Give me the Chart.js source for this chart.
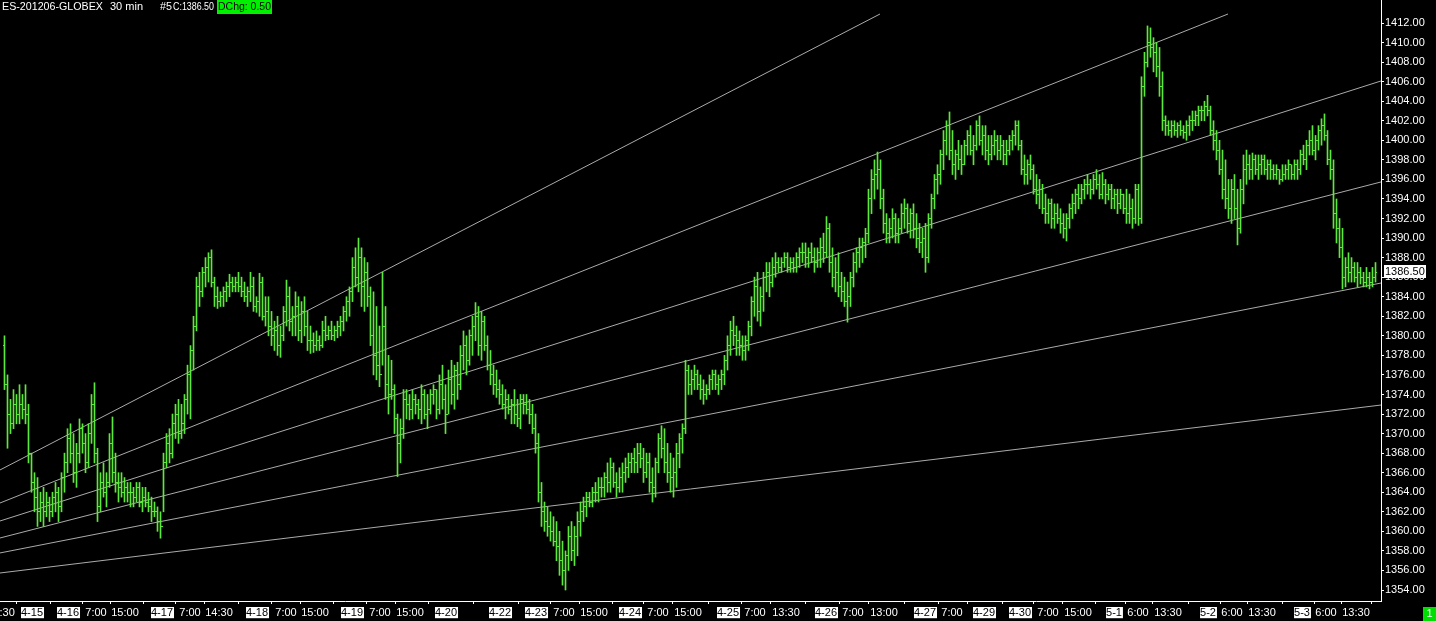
<!DOCTYPE html>
<html><head><meta charset="utf-8">
<script src="https://cdn.jsdelivr.net/npm/chart.js@4/dist/chart.umd.min.js"></script>
<style>html,body{margin:0;padding:0;background:#000;overflow:hidden}
#wrap{position:relative;width:1436px;height:621px}</style></head>
<body><div id="wrap"><canvas id="c"></canvas></div>
<script>
// ---- data (30 min bars, ES-201206-GLOBEX) ----
const highs=[
1380,1376,1373.5,1374.5,1374,1375,1374,1375,1373,1368,
1366,1365.5,1364,1364.5,1364,1363.5,1364,1365,1364.5,1366,
1368,1370.5,1371,1370,1369,1371.5,1371,1370,1371,1374,
1375.2,1368.5,1366,1367,1366,1370,1371.7,1368,1366,1366,
1365.5,1365,1365,1364.5,1365,1365,1364.5,1364.5,1364,1363.5,
1363,1362.5,1362,1368,1370,1370.5,1372,1373,1373.5,1373,
1374,1377,1379,1382,1386,1386.5,1387,1388,1388.5,1388.8,
1386,1385,1384.5,1385,1385.5,1386.3,1386,1386,1386.5,1386,
1385.5,1385,1386.5,1386,1384,1386.4,1386,1384,1384,1382.5,
1381.5,1382,1381,1383,1385.7,1385,1383,1384.5,1384,1383.5,
1384,1382.5,1381,1380.3,1380.5,1380,1381.5,1382,1381,1381.5,
1381,1381.5,1382,1383,1384,1385,1388,1389,1390,1389,
1388,1387.5,1385,1384.5,1383,1381,1386.5,1383,1378,1377.5,
1375,1372,1371.5,1374.5,1374.5,1374,1374.5,1374,1373.5,1375,
1374.5,1374,1374.5,1375,1374.5,1376,1377,1375,1376.5,1377.5,
1377,1377.3,1379,1380.5,1380,1380.6,1382,1383.4,1383,1382.5,
1382,1380,1378.5,1377,1376.5,1375.5,1375,1374.5,1374,1373.5,
1374.5,1373.5,1374,1374,1374,1373.5,1373,1372,1370,1365,
1363,1362.5,1362,1361.5,1361,1360,1359,1358,1360.5,1361,
1360.5,1362,1363,1363.5,1364,1364,1364.5,1365,1365.5,1365.5,
1366,1367,1367.5,1367,1366,1366.5,1367,1367.5,1368,1368,
1368.5,1369,1369,1368.5,1368,1368,1366.5,1367.5,1370,1370.8,
1370.5,1369,1368,1367.5,1369,1370,1371,1377.5,1377,1376.5,
1377,1376.5,1376,1375.5,1375,1376,1376.5,1376.5,1376,1376.5,
1378,1380,1381.5,1382,1381,1380.5,1380,1380,1381.5,1384,
1386,1386.5,1385,1386.5,1387.5,1387.5,1388,1388.5,1388,1388,
1388.5,1388.5,1388,1388,1388.5,1389,1389.5,1389.5,1389,1389.5,
1389,1389,1390,1390.5,1392.2,1391.5,1389,1388,1388.5,1386.5,
1386,1385.5,1386.5,1388.5,1389,1390,1390,1391,1395,1397,
1398,1398.8,1398,1395,1392.5,1392,1393,1392.5,1392,1393.5,
1394,1393.5,1393,1393.5,1392.5,1391.5,1391,1391.5,1392.5,1394.5,
1396.5,1397.5,1399,1401,1402,1402.9,1401,1399,1400,1399.5,
1400,1401,1401.5,1400.5,1402,1402.5,1401.5,1401.5,1400.5,1400.5,
1401,1400.5,1400.5,1400,1400,1400.5,1401,1402,1402,1400,
1398.5,1398,1398.5,1397.5,1396.5,1396,1395.5,1394.5,1394,1394,
1393.5,1393.5,1393,1392.5,1392.5,1393.5,1394.5,1395,1395.5,1395.5,
1396,1396.5,1396,1396.5,1397,1396.5,1396.7,1396,1395.5,1395.5,
1395,1395,1395,1394.5,1395,1394.5,1394,1395.5,1395.5,1406.5,
1409,1411.7,1411.5,1410.5,1410,1409.5,1407,1402.5,1402,1402,
1402,1401.8,1402,1401.5,1402,1402.5,1403,1403,1403.5,1403.5,
1404,1404.6,1403.5,1402,1401,1400,1399,1398,1396,1396,
1396.5,1395,1396,1398.5,1399,1398.5,1398.7,1398.5,1398.5,1398.5,
1398.5,1398,1398,1397.5,1397.5,1397,1397.5,1397.5,1398,1397.5,
1398,1398,1399,1399.5,1400,1401,1401.5,1400.5,1401.5,1402.2,
1402.7,1401,1399,1398,1394,1392,1391,1388,1388.5,1388,
1387.5,1387.5,1387,1386.5,1387,1386.5,1387,1387.5];
const lows=[
1374.5,1368.5,1370,1370.5,1371,1371,1371.5,1371,1367,1364,
1362,1360.5,1361,1360.5,1361.5,1361,1361.5,1362,1361,1362,
1364,1366,1367,1365,1364.5,1367,1368,1366,1366.5,1369,
1367,1361,1362,1363.5,1362.5,1364.5,1365,1364,1363,1363.5,
1363,1363,1362.5,1362.5,1363,1362.5,1362,1362.5,1362,1361,
1361.5,1360,1359.3,1362,1366.5,1367,1367.5,1369.5,1369,1369.5,
1370,1372,1371.5,1376.5,1380.5,1383,1384,1385,1385.5,1385,
1383,1382.8,1383,1383,1383.5,1384,1384.5,1384.5,1384.5,1384,
1383.5,1383,1383.5,1382.5,1382.4,1382,1381.6,1381,1380,1379,
1378.5,1378,1377.8,1379.5,1381,1380.5,1380,1380,1379.5,1379.3,
1380,1378.5,1378.2,1378.3,1378.5,1378.5,1378.8,1379.5,1379.6,1379.6,
1379.5,1379.8,1380,1380.5,1381.5,1382,1383.5,1385,1384.5,1383,
1382.5,1383,1379,1376,1375.5,1374.8,1377,1373.5,1372,1373.5,
1370,1365.6,1367,1369.5,1371.5,1371.4,1371.5,1372,1371.5,1371,
1371.5,1370.5,1372,1373,1371.5,1372,1372.5,1370,1372,1373,
1372.5,1373.5,1374.5,1376.5,1376,1377,1378,1379.5,1378,1377.5,
1378.5,1376.5,1375,1374,1373.7,1373,1372.5,1371.5,1372,1371,
1371,1370.7,1370.5,1372,1372,1371,1370,1368,1363,1360.5,
1360,1359.5,1359,1358.5,1357,1355.5,1354.5,1354,1356,1357,
1356.5,1357.5,1359.5,1361,1361.5,1362.5,1362.5,1363,1363,1363.5,
1363.5,1364,1364,1364.5,1363.5,1364,1364,1365,1365.5,1366,
1366,1366,1366.5,1365,1365.5,1364,1363,1363.5,1366,1367.5,
1366,1365,1364,1363.5,1364.5,1366.5,1368,1370,1374,1374,
1374.5,1374.5,1373.5,1373,1373.5,1374,1374.5,1374.5,1374,1374.5,
1375,1376.5,1378,1379,1378,1378,1377.5,1377.5,1378.5,1380,
1382,1381.5,1381,1382.5,1384.5,1384,1385,1386,1386.5,1386.5,
1387,1386.5,1386.5,1386.5,1386.5,1387,1387.5,1387,1387,1387.5,
1386.5,1387,1387,1387.5,1388,1386.5,1385,1384.5,1384,1383.5,
1383,1381.4,1383,1385,1386.5,1387,1387.5,1388,1389.5,1392.5,
1394,1395,1393,1390.5,1389.5,1389.5,1390,1389.5,1389.5,1390.5,
1391,1390.5,1390,1390,1389,1388.5,1388,1386.5,1387.5,1391,
1393,1394.5,1395.5,1397,1398.5,1398,1396.5,1396,1397,1396.5,
1397.5,1398.5,1398.5,1397.5,1399,1399.5,1398.5,1398,1397.5,1398,
1398.5,1398,1398,1397.5,1397.5,1398.5,1399,1399.5,1399,1396.5,
1395.5,1395.5,1396,1394.5,1393.5,1393,1392.5,1391.5,1391.5,1391,
1391,1391.5,1390.5,1390,1389.7,1391,1392,1392.5,1393,1393.5,
1394,1394.5,1394,1394.5,1395,1394,1394,1393.5,1393.9,1393,
1393,1392.5,1393,1392.5,1391.5,1391.5,1391,1391.5,1391.3,1391.5,
1404.5,1407.5,1408.5,1407,1406.5,1404.5,1401,1400.5,1400.5,1400.3,
1400.5,1400.3,1400.5,1400.2,1400,1400.5,1401,1401.5,1401.5,1402,
1402,1402.5,1400.5,1399,1398,1396.5,1394,1393,1392,1391.5,
1392,1389.3,1390.5,1393.5,1395.5,1396,1396,1396.5,1396,1396.5,
1396.5,1396,1396,1396,1396,1395.5,1395.8,1396,1396,1396,
1396,1396,1396.5,1397.5,1397,1398.5,1398.5,1398,1399,1399.5,
1400,1397.5,1396,1391,1389.5,1388,1384.8,1385,1385.5,1385.5,
1385.5,1385,1385.3,1385,1385,1384.8,1385,1385.5];
const closes=[
1375,1372,1371,1373,1372,1373,1372.5,1372,1368,1365,
1363.5,1362,1363,1362,1363,1362,1363.5,1364,1362.5,1365.5,
1367,1369.5,1368,1366,1368,1370.5,1369,1367,1370,1373,
1368,1362.5,1365,1364,1365,1369,1366,1365,1364.5,1364,
1364.5,1364,1364,1363.5,1364.5,1363,1363.5,1363,1362.5,1362,
1362,1361,1360.5,1367,1369,1368,1371,1372,1370,1371,
1373.5,1376,1378.5,1381,1385,1384.5,1386.5,1387,1388,1385.5,
1384,1383.5,1384,1384.5,1385,1385.5,1385,1385.5,1385,1384.5,
1384,1384.5,1385,1383,1383.5,1385.5,1382,1382.5,1381,1380,
1380.5,1379,1380,1382.5,1384,1381.5,1382,1383,1380.5,1382.5,
1381,1379.5,1379.5,1379,1379.5,1379,1380.5,1380,1380.5,1380,
1380.5,1381,1381.5,1382.5,1383.5,1384.5,1387,1386,1388,1385,
1386.5,1384,1380,1378,1377,1376,1381,1375,1374,1374.5,
1371.5,1369,1370.5,1373.5,1373,1372.5,1373.5,1373,1372.5,1374,
1372,1372.5,1374,1374.5,1372.5,1375,1373.5,1372,1375.5,1374,
1376.5,1375,1378,1379,1377.5,1380,1381,1382,1379,1381.5,
1379,1377,1376,1375,1374.5,1374,1373,1373.5,1372.5,1373,
1372,1371.5,1373.5,1373,1372.5,1372,1370.5,1369,1364,1362,
1361,1360.5,1360,1359,1358.5,1357,1356,1357.5,1359.5,1358,
1359.5,1361,1362,1362.5,1363.5,1363,1364,1364,1364.5,1364.5,
1365.5,1365,1366.5,1365,1364.5,1365.5,1366,1366.5,1367,1367.5,
1367,1368,1367.5,1366,1367,1365,1364.5,1367,1369.5,1368.5,
1367,1366,1365.5,1366,1368,1369.5,1370.5,1376.5,1375,1375.5,
1376,1375,1374.5,1374,1374.5,1375.5,1376,1375,1375.5,1376,
1377.5,1379,1380.5,1380,1379.5,1379,1378.5,1379.5,1381,1383.5,
1385,1382.5,1384,1386,1386.5,1385.5,1387,1387.5,1387,1387.5,
1388,1387,1387.5,1387,1388,1388.5,1388.5,1388,1388.5,1388,
1387.5,1388.5,1389,1388.5,1391,1387.5,1386,1386.5,1385,1384.5,
1383.5,1384,1386,1387.5,1388.5,1389,1389.5,1390.5,1394,1396,
1396.5,1397,1394,1391.5,1390.5,1391,1392,1390.5,1391,1392.5,
1393,1391.5,1392.5,1391,1390,1389.5,1390,1388,1392,1394,
1396,1396.5,1398.5,1400,1401.5,1399,1397.5,1398.5,1398,1397.5,
1399.5,1400.5,1399,1399.5,1401.5,1400,1400.5,1399,1398.5,1399.5,
1400,1399,1399.5,1398.5,1399,1400,1400.5,1401.5,1399.5,1397,
1396.5,1397.5,1397,1395,1394.5,1395,1393,1392.5,1393.5,1392,
1392.5,1392,1391.5,1391,1392,1393,1393.5,1394.5,1394,1395,
1395.5,1395.5,1395,1396,1395.5,1394.5,1395.5,1394.5,1395,1394,
1394.5,1393.5,1394.5,1393,1392.5,1393,1392,1395,1392,1405.5,
1408,1410,1409.5,1409,1407.5,1405.5,1402,1401.5,1401,1401.5,
1401,1401.5,1401,1400.8,1401.5,1402,1402,1402.5,1403,1403,
1403.5,1403,1401,1400,1399,1397,1395,1394,1393,1395,
1393,1391,1395,1397,1397.5,1397,1398,1397,1397.5,1398,
1397,1397.5,1397,1396.5,1397,1396,1396.5,1397,1397.5,1396.5,
1397.5,1397,1398.5,1398,1399.5,1400,1399,1400,1401,1401.5,
1400.5,1398,1397,1392.5,1391,1389,1386,1387,1386.5,1387,
1386,1386.5,1386,1385.5,1386,1385.5,1386,1386.5];
const firstOpen=1379;

const priceTicks=[1354,1356,1358,1360,1362,1364,1366,1368,1370,1372,1374,1376,1378,1380,
1382,1384,1386,1388,1390,1392,1394,1396,1398,1400,1402,1404,1406,1408,1410,1412];

const xTickPos=[-1.17,9.17,21.17,30.5,40.17,52.5,61.83,71.5,84.17,93.83,103.5,115.83,125.17,135.17,
147.17,165.17,177.17,186.5,196.5,208.5,217.83,227.83,241.17,250.17,260.5,273.83,282.83,293.17,
306.83,315.83,326.5,338.5,347.83,357.83,369.83,377.83,387.83,401.17,409.17,419.17,432.5,440.5,450.5];
const xTickLabels=['13:30','4-15','4-16','7:00','15:00','4-17','7:00','14:30','4-18','7:00','15:00','4-19','7:00','15:00',
'4-20','4-22','4-23','7:00','15:00','4-24','7:00','15:00','4-25','7:00','13:30','4-26','7:00','13:00',
'4-27','7:00','4-29','4-30','7:00','15:00','5-1','6:00','13:30','5-2','6:00','13:30','5-3','6:00','13:30'];

// trend lines: [startBar, startPrice, endBar, endPrice]
const line1=[-1.5,1366.28,291.83,1412.92];
const line2=[-1.5,1362.90,407.83,1412.92];
const line3=[-1.5,1361.06,458.83,1406.07];
const line4=[-1.5,1359.32,458.83,1395.74];
const line5=[-1.5,1357.79,458.83,1385.40];
const line6=[-1.5,1355.74,458.83,1372.92];
const trendLines=[line1,line2,line3,line4,line5,line6];

const lastPrice=1386.50;
const barColor='#5ee83c';
const FONT='"Liberation Sans", Arial, sans-serif';

const datasets=[{
  type:'bar', label:'range', order:0,
  data: highs.map((h,i)=>({x:i,y:[lows[i],h]})),
  backgroundColor:barColor, borderWidth:0, barThickness:1, grouped:false
}];
trendLines.forEach((l,k)=>datasets.push({
  type:'line', label:'t'+k, order:1,
  data:[{x:l[0],y:l[1]},{x:l[2],y:l[3]}],
  borderColor:'#ababab', borderWidth:1, pointRadius:0, tension:0, fill:false
}));

const ohlcTicks={id:'ohlcTicks',afterDatasetsDraw(chart){
  const xs=chart.scales.x, ys=chart.scales.y, ctx=chart.ctx;
  ctx.save(); ctx.fillStyle=barColor;
  for(let i=0;i<highs.length;i++){
    const px=Math.round(xs.getPixelForValue(i)-0.5);
    const o=i?closes[i-1]:firstOpen;
    ctx.fillRect(px-1,Math.floor(ys.getPixelForValue(o)),1,1);
    ctx.fillRect(px+1,Math.floor(ys.getPixelForValue(closes[i])),1,1);
  }
  ctx.restore();
}};

const overlay={id:'overlay',afterDraw(chart){
  const ctx=chart.ctx, ys=chart.scales.y;
  ctx.save();
  ctx.font='11px '+FONT; ctx.textBaseline='middle'; ctx.textAlign='left';
  ctx.fillStyle='#fff';
  ctx.fillText('ES-201206-GLOBEX',2,7,101);
  ctx.fillText('30 min',110,7,38);
  ctx.fillText('#5',160,7,12);
  ctx.fillText('C:1386.50',173,7,41);
  ctx.fillStyle='#00f000'; ctx.fillRect(217,0,55,14);
  ctx.fillStyle='#000'; ctx.fillText('DChg: 0.50',218,7,53);
  // last price box
  const yp=Math.round(ys.getPixelForValue(lastPrice));
  ctx.fillStyle='#fff'; ctx.fillRect(1384,yp-7,42,13);
  ctx.fillStyle='#000'; ctx.fillText(lastPrice.toFixed(2),1385,yp);
  // bottom right box
  ctx.fillStyle='#00e000'; ctx.fillRect(1423,607,13,14);
  ctx.fillStyle='#fff'; ctx.textAlign='center'; ctx.fillText('1',1429.5,614);
  ctx.restore();
}};

new Chart(document.getElementById('c'),{
  type:'bar',
  data:{datasets},
  options:{
    responsive:true, maintainAspectRatio:false, animation:false,
    layout:{padding:0},
    plugins:{legend:{display:false},title:{display:false},tooltip:{enabled:false}},
    scales:{
      x:{type:'linear',position:'bottom',min:-1.5,max:458.8333,offset:false,
        afterBuildTicks:s=>{s.ticks=xTickPos.map(v=>({value:v}));},
        afterFit:s=>{s.height=20;s.paddingLeft=0;s.paddingRight=0;},
        ticks:{autoSkip:false,maxRotation:0,minRotation:0,padding:2,
          font:{family:FONT,size:11},
          callback:(v,i)=>xTickLabels[i],
          color:c=>xTickLabels[c.index]&&xTickLabels[c.index].includes('-')?'#000':'#fff',
          showLabelBackdrop:c=>!!(xTickLabels[c.index]&&xTickLabels[c.index].includes('-')),
          backdropColor:'#fff',backdropPadding:{top:-1,bottom:-1,left:0,right:1}},
        grid:{drawOnChartArea:false,color:'#fff',tickLength:3},
        border:{color:'#fff',width:1}},
      y:{type:'linear',position:'right',min:1352.875,max:1414.353,
        afterBuildTicks:s=>{s.ticks=priceTicks.map(v=>({value:v}));},
        afterFit:s=>{s.width=55;s.paddingTop=0;s.paddingBottom=0;},
        ticks:{color:'#fff',padding:1,font:{family:FONT,size:11},callback:v=>Number(v).toFixed(2)},
        grid:{drawOnChartArea:false,color:'#fff',tickLength:3},
        border:{color:'#fff',width:1}}
    }
  },
  plugins:[ohlcTicks,overlay]
});
</script></body></html>
